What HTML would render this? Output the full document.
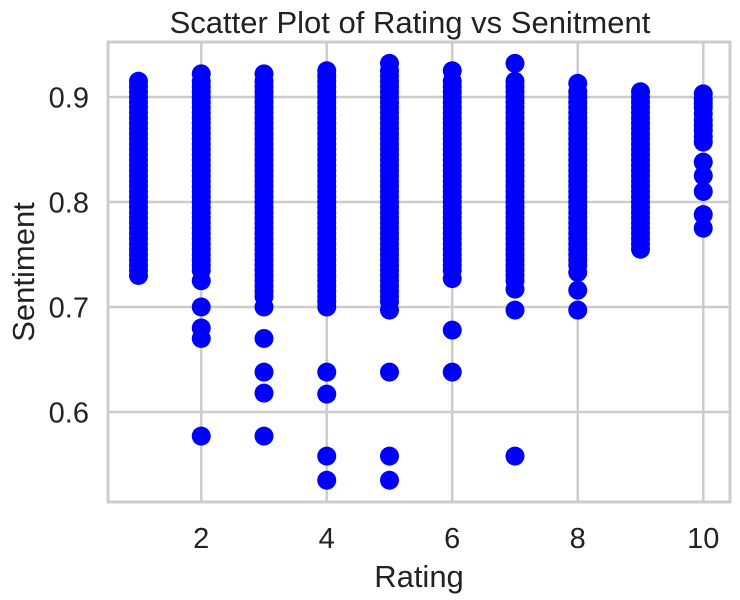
<!DOCTYPE html>
<html><head><meta charset="utf-8"><style>
body{margin:0;background:#fff;}
svg{display:block;font-family:"Liberation Sans",Arial,sans-serif;}
</style></head><body>
<svg id="chart" width="740" height="600" viewBox="0 0 740 600">
<g id="grid"></g>
<g id="points"></g>
<g id="axes"></g>
<text x="410" y="33" text-anchor="middle" font-size="31" fill="#222">Scatter Plot of Rating vs Senitment</text>
<text x="419" y="587" text-anchor="middle" font-size="31" fill="#222">Rating</text>
<text transform="translate(34,272) rotate(-90)" text-anchor="middle" font-size="31" fill="#222">Sentiment</text>
</svg>
<script>
const xTicks=[2,4,6,8,10];
const yTicks=[0.6,0.7,0.8,0.9];
const ratings=[1,2,3,4,5,6,7,8,9,10];
const s1=[0.73,0.735,0.74,0.745,0.75,0.755,0.76,0.765,0.77,0.775,0.78,0.785,0.79,0.795,0.80,0.805,0.81,0.815,0.82,0.825,0.83,0.835,0.84,0.845,0.85,0.855,0.86,0.865,0.87,0.875,0.88,0.885,0.89,0.895,0.90,0.905,0.91,0.915];
const s2=[0.577,0.67,0.68,0.70,0.725,0.735,0.74,0.745,0.75,0.755,0.76,0.765,0.77,0.775,0.78,0.785,0.79,0.795,0.80,0.805,0.81,0.815,0.82,0.825,0.83,0.835,0.84,0.845,0.85,0.855,0.86,0.865,0.87,0.875,0.88,0.885,0.89,0.895,0.90,0.905,0.91,0.915,0.922];
const s3=[0.577,0.618,0.638,0.67,0.70,0.71,0.715,0.72,0.725,0.73,0.735,0.74,0.745,0.75,0.755,0.76,0.765,0.77,0.775,0.78,0.785,0.79,0.795,0.80,0.805,0.81,0.815,0.82,0.825,0.83,0.835,0.84,0.845,0.85,0.855,0.86,0.865,0.87,0.875,0.88,0.885,0.89,0.895,0.90,0.905,0.91,0.915,0.922];
const s4=[0.535,0.558,0.617,0.638,0.70,0.705,0.71,0.715,0.72,0.725,0.73,0.735,0.74,0.745,0.75,0.755,0.76,0.765,0.77,0.775,0.78,0.785,0.79,0.795,0.80,0.805,0.81,0.815,0.82,0.825,0.83,0.835,0.84,0.845,0.85,0.855,0.86,0.865,0.87,0.875,0.88,0.885,0.89,0.895,0.90,0.905,0.91,0.915,0.92,0.925];
const s5=[0.535,0.558,0.638,0.697,0.705,0.71,0.715,0.72,0.725,0.73,0.735,0.74,0.745,0.75,0.755,0.76,0.765,0.77,0.775,0.78,0.785,0.79,0.795,0.80,0.805,0.81,0.815,0.82,0.825,0.83,0.835,0.84,0.845,0.85,0.855,0.86,0.865,0.87,0.875,0.88,0.885,0.89,0.895,0.90,0.905,0.91,0.915,0.92,0.925,0.932];
const s6=[0.638,0.678,0.727,0.735,0.74,0.745,0.75,0.755,0.76,0.765,0.77,0.775,0.78,0.785,0.79,0.795,0.80,0.805,0.81,0.815,0.82,0.825,0.83,0.835,0.84,0.845,0.85,0.855,0.86,0.865,0.87,0.875,0.88,0.885,0.89,0.895,0.90,0.905,0.91,0.915,0.925];
const s7=[0.558,0.697,0.717,0.725,0.73,0.735,0.74,0.745,0.75,0.755,0.76,0.765,0.77,0.775,0.78,0.785,0.79,0.795,0.80,0.805,0.81,0.815,0.82,0.825,0.83,0.835,0.84,0.845,0.85,0.855,0.86,0.865,0.87,0.875,0.88,0.885,0.89,0.895,0.90,0.905,0.91,0.915,0.932];
const s8=[0.697,0.716,0.733,0.74,0.745,0.75,0.755,0.76,0.765,0.77,0.775,0.78,0.785,0.79,0.795,0.80,0.805,0.81,0.815,0.82,0.825,0.83,0.835,0.84,0.845,0.85,0.855,0.86,0.865,0.87,0.875,0.88,0.885,0.89,0.895,0.90,0.905,0.913];
const s9=[0.755,0.76,0.765,0.77,0.775,0.78,0.785,0.79,0.795,0.80,0.805,0.81,0.815,0.82,0.825,0.83,0.835,0.84,0.845,0.85,0.855,0.86,0.865,0.87,0.875,0.88,0.885,0.89,0.895,0.90,0.905];
const s10=[0.775,0.788,0.81,0.825,0.838,0.857,0.862,0.868,0.873,0.878,0.884,0.89,0.894,0.898,0.903];
const series=[s1,s2,s3,s4,s5,s6,s7,s8,s9,s10];
const L=108,R=730,T=42,B=502;
const xs=v=>138.5+(v-1)*62.75;
const ys=v=>97+(0.9-v)*1050;
const NS='http://www.w3.org/2000/svg';
function mk(tag,attrs,parent){const e=document.createElementNS(NS,tag);for(const k in attrs)e.setAttribute(k,attrs[k]);parent.appendChild(e);return e;}
const grid=document.getElementById('grid'),pts=document.getElementById('points'),axes=document.getElementById('axes');
xTicks.forEach(t=>{
 const l=mk('line',{x1:xs(t),x2:xs(t),y1:T,y2:B,stroke:'#cccccc','stroke-width':2.5},grid);
 
 
 const tx=mk('text',{x:xs(t),y:548,'text-anchor':'middle','font-size':29,fill:'#222'},axes);
 tx.textContent=t;
 
 
});
yTicks.forEach(t=>{
 const l=mk('line',{x1:L,x2:R,y1:ys(t),y2:ys(t),stroke:'#cccccc','stroke-width':2.5},grid);
 
 
 const tx=mk('text',{x:89,y:ys(t)+10.5,'text-anchor':'end','font-size':29,fill:'#222'},axes);
 tx.textContent=t.toFixed(1);
 
 
});
const frame=mk('rect',{x:L,y:T,width:R-L,height:B-T,fill:'none',stroke:'#cccccc','stroke-width':3},axes);


ratings.forEach((r,i)=>{
 series[i].forEach(v=>{
  const c=mk('circle',{cx:xs(r),cy:ys(v),r:9.5,fill:'#0000ff'},pts);
  
  
 });
});
</script>
</body></html>
